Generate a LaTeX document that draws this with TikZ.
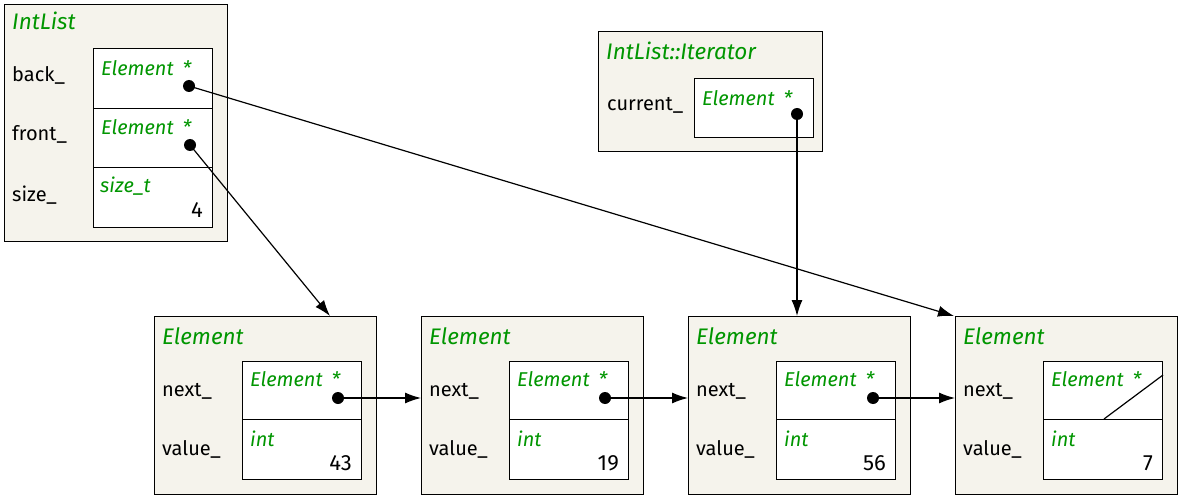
\documentclass[tikz,border=0pt]{standalone}
\usepackage{fontspec}
\setmainfont{Fira Sans}
\usetikzlibrary{arrows.meta,calc}
\definecolor{bgc}{RGB}{245,243,236}
\definecolor{grn}{RGB}{0,150,0}
\tikzset{
  outerbox/.style={draw, fill=bgc, line width=1.2pt},
  innerbox/.style={draw, fill=white, line width=1.2pt},
  ttl/.style={anchor=base west, inner sep=0pt, font=\fontsize{22.5}{26}\selectfont\itshape, text=grn},
  lbl/.style={anchor=base west, inner sep=0pt, font=\fontsize{20}{24}\selectfont},
  typ/.style={anchor=base west, inner sep=0pt, font=\fontsize{20}{24}\selectfont\itshape, text=grn},
  val/.style={anchor=base east, inner sep=0pt, font=\fontsize{22}{26}\selectfont},
  ptrdot/.style={circle, fill=black, inner sep=0pt, minimum size=12pt},
  conn/.style={line width=1.2pt, -{Latex[length=16pt,width=11pt]}}
}
\newcommand{\elembox}[3]{% #1 name, #2 left x, #3 value
  \node[outerbox, anchor=north west, minimum width=222pt, minimum height=178pt, inner sep=0pt] (#1) at (#2,316) {};
  \node[ttl] (#1t) at (#2+8,344) {Element};
  \node[lbl] (#1n) at (#2+8,396) {next\_};
  \node[lbl] (#1v) at (#2+8,455) {value\_};
  \node[innerbox, anchor=north west, minimum width=119pt, minimum height=58pt, inner sep=0pt] (#1a) at (#2+88,361) {};
  \node[innerbox, anchor=north west, minimum width=119pt, minimum height=60pt, inner sep=0pt] (#1b) at (#2+88,419) {};
  \node[typ] (#1at) at (#2+96,386) {Element\hspace{0.45em}*};
  \node[typ] (#1bt) at (#2+96,446) {int};
  \node[val] (#1bv) at (#2+198,470) {#3};
}
\begin{document}
\begin{tikzpicture}[x=1pt,y=-1pt]
\useasboundingbox (0,0) rectangle (1183,500);
% IntList
\node[outerbox, anchor=north west, minimum width=223pt, minimum height=237pt, inner sep=0pt] (il) at (4,4) {};
\node[ttl] (ilt) at (12,30) {IntList};
\node[lbl] (ilb) at (12,82) {back\_};
\node[lbl] (ilf) at (12,141) {front\_};
\node[lbl] (ils) at (12,201) {size\_};
\node[innerbox, anchor=north west, minimum width=119pt, minimum height=60pt, inner sep=0pt] (ib) at (93,48) {};
\node[innerbox, anchor=north west, minimum width=119pt, minimum height=59pt, inner sep=0pt] (if) at (93,108) {};
\node[innerbox, anchor=north west, minimum width=119pt, minimum height=60pt, inner sep=0pt] (is) at (93,167) {};
\node[typ] (ibt) at (101,76) {Element\hspace{0.45em}*};
\node[typ] (ift) at (101,135) {Element\hspace{0.45em}*};
\node[typ] (ist) at (100,192) {size\_t};
\node[val] (isv) at (203,217) {4};
% Iterator
\node[outerbox, anchor=north west, minimum width=224pt, minimum height=120pt, inner sep=0pt] (it) at (598,31) {};
\node[ttl] (itt) at (606,60) {IntList::Iterator};
\node[lbl] (itc) at (607,111) {current\_};
\node[innerbox, anchor=north west, minimum width=119pt, minimum height=59pt, inner sep=0pt] (ic) at (694,78) {};
\node[typ] (ict) at (702,106) {Element\hspace{0.45em}*};
% Elements
\elembox{e0}{154}{43}
\elembox{e1}{421}{19}
\elembox{e2}{688}{56}
\elembox{e3}{955}{7}
% null pointer
\coordinate (nA) at (1104,419);
\coordinate (nB) at (1163,375);
\draw[line width=1.2pt] (nA) -- (nB);
% dots
\node[ptrdot] (db) at (189,86) {};
\node[ptrdot] (df) at (190,145) {};
\node[ptrdot] (dc) at (797,114) {};
\node[ptrdot] (d0) at (338,398) {};
\node[ptrdot] (d1) at (605,398) {};
\node[ptrdot] (d2) at (873,398) {};
% targets
\coordinate (tf) at (330,316);
\coordinate (tb) at (954,316);
% connectors
\draw[conn] (db.center) -- (tb);
\draw[conn] (df.center) -- (tf);
\draw[conn] (dc.center) -- (dc |- e2.north);
\draw[conn] (d0.center) -- (d0 -| e1.west);
\draw[conn] (d1.center) -- (d1 -| e2.west);
\draw[conn] (d2.center) -- (d2 -| e3.west);
\end{tikzpicture}
\end{document}
